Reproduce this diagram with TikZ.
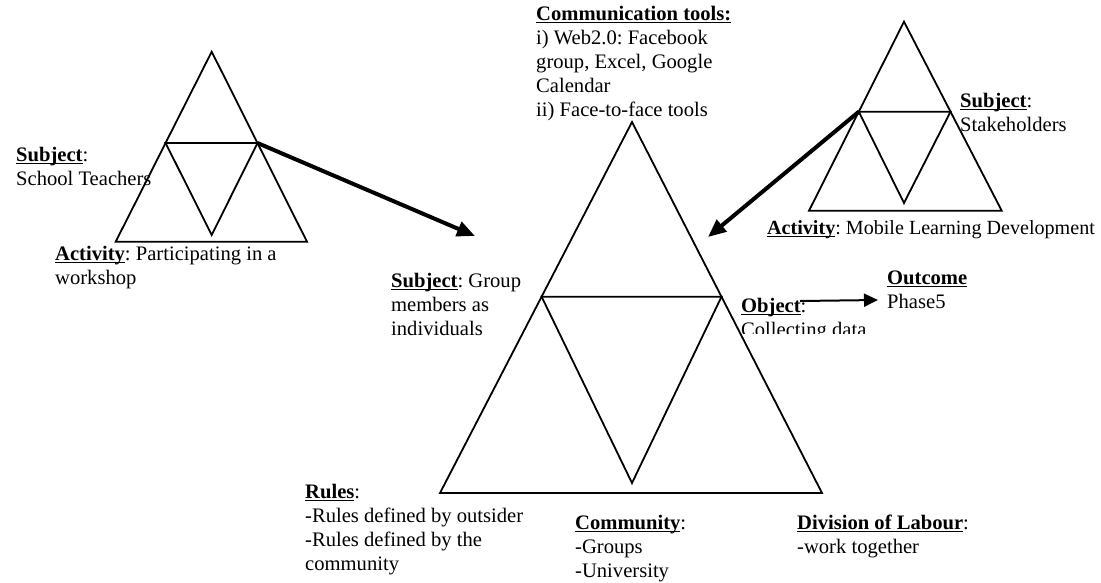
\documentclass[tikz,border=0pt]{standalone}
\usepackage{fontspec}
\setmainfont{Liberation Serif}
\usetikzlibrary{arrows.meta}
\frenchspacing
\newcommand{\ulb}[1]{\setbox0\hbox{#1}\rlap{\rule[-3.2pt]{\wd0}{1.5pt}}\box0}
\newcommand{\fs}{\rule{0pt}{17pt}}
\newcommand{\lbfont}{\fontsize{20.6}{24.1}\selectfont\frenchspacing}
\tikzset{
  tri/.style={line width=1.8pt, line join=miter},
  bigarrow/.style={line width=4pt, -{Triangle[length=18pt,width=15pt]}},
  smallarrow/.style={line width=2pt, -{Triangle[length=14pt,width=13pt]}},
  lbl/.style={anchor=north west, inner sep=0pt, align=left, font=\lbfont}
}
\begin{document}
\begin{tikzpicture}[x=1pt,y=-1pt]
\useasboundingbox (0,0) rectangle (1101,582);
\fill[white] (0,0) rectangle (1101,582);

% left triangle
\coordinate (LA) at (211.7,51.7);
\coordinate (LBL) at (115.7,241.7);
\coordinate (LBR) at (307,241.7);
\coordinate (LML) at (165.6,143);
\coordinate (LMR) at (257.5,143);
\coordinate (LIV) at (211.7,235);
\draw[tri] (LA) -- (LBL) -- (LBR) -- cycle;
\draw[tri] (LML) -- (LMR) -- (LIV) -- cycle;

% main triangle
\coordinate (MA) at (632,122);
\coordinate (MBL) at (440,493);
\coordinate (MBR) at (822,493);
\coordinate (MML) at (541.6,296.7);
\coordinate (MMR) at (721.5,296.7);
\coordinate (MIV) at (632,483);
\draw[tri] (MA) -- (MBL) -- (MBR) -- cycle;
\draw[tri] (MML) -- (MMR) -- (MIV) -- cycle;

% right triangle
\coordinate (RA) at (904,21.7);
\coordinate (RBL) at (809,210.7);
\coordinate (RBR) at (1001.7,210.7);
\coordinate (RML) at (858.8,111.7);
\coordinate (RMR) at (950.5,111.7);
\coordinate (RIV) at (904,203);
\draw[tri] (RA) -- (RBL) -- (RBR) -- cycle;
\draw[tri] (RML) -- (RMR) -- (RIV) -- cycle;

% arrows
\coordinate (tipL) at (475,236);
\coordinate (tipR) at (708,237);
\draw[bigarrow] (LMR) -- (tipL);
\draw[bigarrow] (RML) -- (tipR);

% labels
\node[lbl] (tools) at (536,3) {\fs\ulb{\textbf{Communication tools:}}\\i) Web2.0: Facebook\\group, Excel, Google\\Calendar\\ii) Face-to-face tools};
\node[lbl] (lsubj) at (16,144) {\fs\ulb{\textbf{Subject}}:\\School Teachers};
\node[lbl] (lact) at (55,243) {\fs\ulb{\textbf{Activity}}: Participating in a\\workshop};
\node[lbl] (rsubj) at (960,90) {\fs\ulb{\textbf{Subject}}:\\Stakeholders};
\node[lbl, font=\fontsize{20.1}{24.1}\selectfont\frenchspacing] (ract) at (767,217) {\fs\ulb{\textbf{Activity}}: Mobile Learning Development};
\node[lbl] (msubj) at (391,270) {\fs\ulb{\textbf{Subject}}: Group\\members as\\individuals};
\begin{scope}
  \clip (735,280) rectangle (900,333);
  \node[lbl] (obj) at (741,295) {\fs\ulb{\textbf{Object}}:\\Collecting data};
\end{scope}
\node[lbl] (outc) at (887,267) {\fs\ulb{\textbf{Outcome}}\\Phase5};
\node[lbl] (rules) at (305,481) {\fs\ulb{\textbf{Rules}}:\\-Rules defined by outsider\\-Rules defined by the\\community};
\node[lbl] (comm) at (575,512) {\fs\ulb{\textbf{Community}}:\\-Groups\\-University};
\node[lbl] (div) at (797,512) {\fs\ulb{\textbf{Division of Labour}}:\\-work together};

\coordinate (objS) at (800,301);
\coordinate (outT) at (878,300);
\draw[smallarrow] (objS) -- (outT);
\end{tikzpicture}
\end{document}
